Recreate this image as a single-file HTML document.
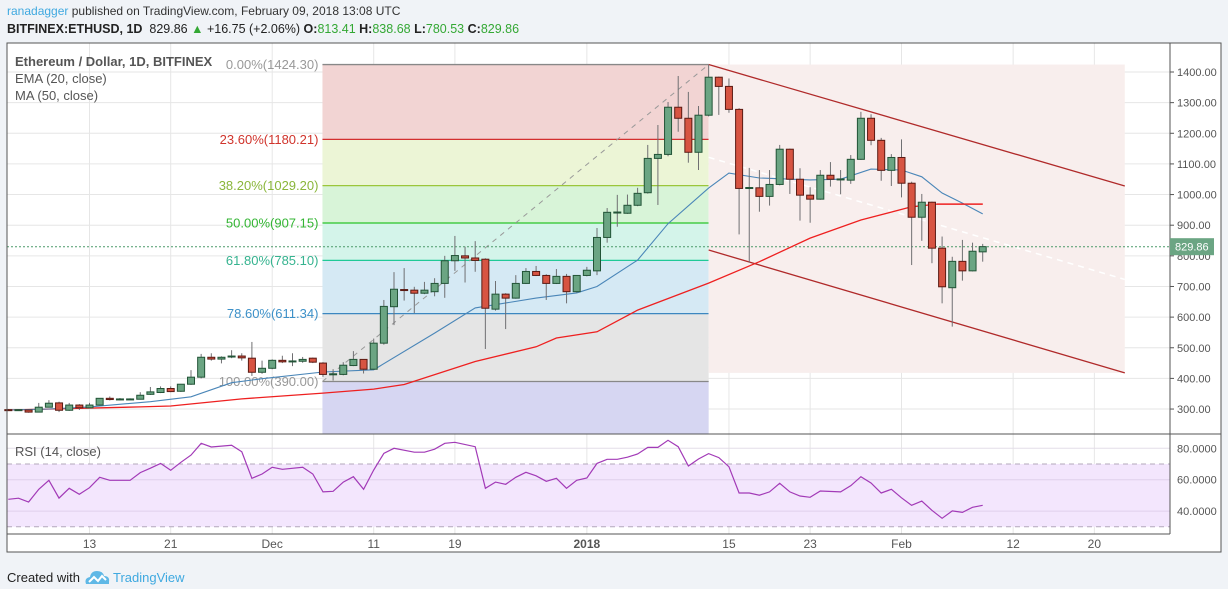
<!DOCTYPE html>
<html><head><meta charset="utf-8"><style>
html,body{margin:0;padding:0;}
body{width:1228px;height:589px;background:#f0f3f7;position:relative;overflow:hidden;font-family:"Liberation Sans",Arial,sans-serif;}
.abs{position:absolute;white-space:nowrap;}
#hdr1{left:7px;top:4px;font-size:12px;color:#333;}
#hdr2{left:7px;top:22px;font-size:12.5px;color:#222;}
.g{color:#34a834;}
#foot{left:7px;top:564px;font-size:13px;color:#222;}
svg{position:absolute;left:0;top:0;}
</style></head><body>
<div class="abs" id="hdr1"><span style="color:#3fa9e0">ranadagger</span> published on TradingView.com, February 09, 2018 13:08 UTC</div>
<div class="abs" id="hdr2"><b>BITFINEX:ETHUSD, 1D</b>&nbsp; 829.86 <span class="g">▲</span> +16.75 (+2.06%) <b>O:</b><span class="g">813.41</span> <b>H:</b><span class="g">838.68</span> <b>L:</b><span class="g">780.53</span> <b>C:</b><span class="g">829.86</span></div>
<div class="abs" id="foot">Created with <svg style="position:relative;left:0;top:4px;vertical-align:baseline" width="26" height="18" viewBox="0 0 26 18"><path d="M2 16 Q0 10 6 9 Q7 3 13 3 Q19 3 20 8 Q26 8 25 14 L25 16 Z" fill="#5fb8e6"/><path d="M5 14 L10 9 L14 13 L18 8 L22 12" stroke="#fff" stroke-width="2" fill="none"/></svg> <span style="color:#3fa9e0">TradingView</span></div>

<svg id="chart" width="1228" height="589" font-family="Liberation Sans, Arial, sans-serif">
<rect x="7" y="43" width="1214" height="509" fill="#fff"/>
<g id="grid"></g>
<g id="fib"></g>
<g id="chan"></g>
<g id="ind"></g>
<g id="candles"></g>
<g id="rsi"></g>
<g id="axes"></g>
<g id="labels">
<text x="15" y="66" font-size="13" font-weight="bold" fill="#555">Ethereum / Dollar, 1D, BITFINEX</text>
<text x="15" y="83" font-size="13" fill="#555">EMA (20, close)</text>
<text x="15" y="100" font-size="13" fill="#555">MA (50, close)</text>
<text x="15" y="456" font-size="13" fill="#555">RSI (14, close)</text>
</g>
</svg>
<script>
const opens=[298,297,297,290,306,320,296,313,304,313,335,332,332,332,348,354,367,358,381,404,469,463,471,473,466,420,433,459,456,456,466,450,414,413,442,462,430,515,634,690,688,678,683,710,784,800,793,789,626,675,662,710,749,736,710,733,683,736,751,860,941,939,965,1006,1118,1131,1285,1249,1138,1259,1383,1353,1278,1020,1022,994,1033,1148,1050,998,985,1063,1050,1047,1115,1249,1177,1079,1121,1037,926,975,825,696,782,751,813];
const highs=[300,299,299,320,329,324,320,316,320,336,341,336,335,355,372,374,374,382,427,480,482,472,492,482,519,458,462,474,482,470,468,453,430,453,489,463,530,656,747,760,699,715,727,800,865,830,848,792,718,678,737,760,767,740,757,741,737,764,891,956,999,1000,1022,1162,1227,1302,1387,1335,1289,1424,1385,1379,1282,1087,1080,1080,1162,1150,1086,1024,1080,1106,1080,1129,1270,1262,1185,1132,1180,1042,1002,977,863,797,852,843,839];
const lows=[295,295,288,289,305,290,294,297,302,312,328,328,330,331,346,352,355,356,379,400,458,449,466,458,408,415,430,450,440,451,450,405,393,410,440,416,428,510,574,654,613,675,668,663,751,713,748,496,621,561,660,708,734,656,708,645,680,733,737,843,895,937,962,1003,966,1125,1205,1104,1080,1255,1260,1267,870,778,944,964,1030,1002,915,908,983,1026,1001,1035,1113,1161,1045,1028,991,770,849,776,645,569,719,749,781];
const closes=[296,298,290,306,319,296,313,304,313,335,331,333,333,345,356,367,357,381,404,469,463,469,473,467,420,433,459,454,457,462,453,413,415,443,462,430,515,635,691,689,678,688,710,784,801,793,785,629,675,662,710,749,736,710,733,683,736,753,860,942,943,965,1004,1118,1131,1285,1249,1138,1259,1383,1353,1278,1020,1023,994,1033,1148,1050,998,985,1063,1050,1051,1115,1249,1177,1079,1121,1037,926,975,825,699,782,751,815,830];
const emaIdx=[0,4,8,14,18,22,25,31,36,42,46,52,56,58,62,65,69,71,74,79,82,85,88,90,92,94,96];
const emaVal=[297,300,307,324,340,386,399,421,428,548,630,662,679,700,786,905,1021,1070,1054,1048,1050,1083,1080,1058,1005,972,937];
const maIdx=[0,13,16,23,31,36,39,46,52,54,58,62,69,74,79,84,89,91.5,96];
const maVal=[297,307,310,333,352,365,380,455,503,532,552,623,711,781,858,917,960,969,969];
const rsiIdx=[0,1,2,3,4,5,6,7,8,9,10,12,13,14,15,16,17,18,19,20,22,23,24,25,26,27,29,30,31,32,33,34,35,36,37,38,40,41,42,43,44,46,47,48,49,50,51,52,53,54,55,56,57,58,59,60,61,62,63,64,65,66,67,68,69,70,71,72,73,74,75,76,77,78,79,80,82,83,84,85,86,87,88,89,90,91,92,93,94,95,96];
const rsiVal=[47.5,48.2,45.8,53.9,59.6,48.3,54.5,50.7,54.9,61.5,59.6,59.6,64.5,67.3,70.4,66,71.1,75.7,83.2,80.8,81.9,77.8,60.9,63.6,67.9,66.6,67.9,63.6,52.2,52.6,58.5,61.9,53.9,66.2,76.8,80,77.5,77.5,79.4,83.2,83.8,81,54.5,58.5,57.1,61.5,64.7,62.5,59,60.9,54.5,59.6,61.1,70.4,73,73,74.3,76.4,80.6,80.6,85.1,81,68.7,73.2,76.6,74.1,68.3,51.5,51.5,50.1,52.2,57.7,52.2,49.6,48.8,52.8,52.2,56.2,61.9,57.9,51.5,53.9,48.5,43.7,46.4,40.5,35.4,40.1,39.2,42.4,43.7];
const priceTicks=[1400,1300,1200,1100,1000,900,800,700,600,500,400,300];
const rsiTicks=[80,60,40];
const dateTickIdx=[8,16,26,36,44,57,71,79,88,99,107];
const dateTickLbl=["13","21","Dec","11","19","2018","15","23","Feb","12","20"];
const fibLevels=[0,23.6,38.2,50,61.8,78.6,100];
const fibHigh=1424.3, fibLow=390, fibStartIdx=31, fibEndIdx=69;
const chanTop=[[69,1424.3],[110,1028]];
const chanBot=[[69,819],[110,418]];
const lastPrice=829.86, hLinePrice=969;

const NS="http://www.w3.org/2000/svg";
const X=i=>8.3+i*10.15;
const Y=p=>72+(1400-p)*0.3064;
const YR=v=>479.7-(v-60)*1.57;
const L=7,R=1170,T=43,PB=434,RB=534,FB=552;
function mk(tag,attrs,parent){const e=document.createElementNS(NS,tag);for(const k in attrs)e.setAttribute(k,attrs[k]);parent.appendChild(e);return e;}
const grid=document.getElementById('grid'),fib=document.getElementById('fib'),chan=document.getElementById('chan'),ind=document.getElementById('ind'),cg=document.getElementById('candles'),rg=document.getElementById('rsi'),ax=document.getElementById('axes');

priceTicks.forEach(p=>{const l=mk('line',{x1:L,x2:R,y1:Y(p),y2:Y(p),stroke:'#e6e6e6'},grid);

});
dateTickIdx.forEach(i=>{const l=mk('line',{x1:X(i),x2:X(i),y1:T,y2:RB,stroke:'#e6e6e6'},grid);

});

const fcol=['#f2d4d3','#ecf5d6','#d8f4d8','#d4f4ea','#d5e9f4','#e5e5e5'];
const lcol=['#888888','#d32f2f','#9bc63b','#29c329','#20c997','#3c87c0','#888888'];
const tcol=['#999999','#d0342c','#8ab63a','#33b533','#35b38f','#3c90c8','#999999'];
const fx1=X(fibStartIdx)-0.5,fx2=X(fibEndIdx);
const fp=lv=>fibHigh-(fibHigh-fibLow)*lv/100;
for(let k=0;k<fibLevels.length-1;k++){const r=mk('rect',{x:fx1,y:Y(fp(fibLevels[k])),width:fx2-fx1,height:Y(fp(fibLevels[k+1]))-Y(fp(fibLevels[k])),fill:fcol[k]},fib);

}
const lav=mk('rect',{x:fx1,y:Y(fibLow),width:fx2-fx1,height:PB-Y(fibLow),fill:'#d6d6f2'},fib);


fibLevels.forEach((lv,k)=>{const y=Y(fp(lv));
const l=mk('line',{x1:fx1,x2:fx2,y1:y,y2:y,stroke:lcol[k],'stroke-width':1.3},fib);


const t=mk('text',{x:fx1-4,y:y+4.5,'text-anchor':'end','font-size':13,fill:tcol[k]},fib);
t.textContent=lv.toFixed(2)+'%('+fp(lv).toFixed(2)+')';

});
const dg=mk('line',{x1:fx1,y1:Y(fibLow),x2:fx2,y2:Y(fibHigh),stroke:'#999','stroke-dasharray':'5,5'},fib);



const cb=mk('rect',{x:X(chanTop[0][0]),y:Y(chanTop[0][1]),width:X(chanTop[1][0])-X(chanTop[0][0]),height:Y(chanBot[1][1])-Y(chanTop[0][1]),fill:'#f8eeed'},chan);


const mid=mk('line',{x1:X(chanTop[0][0]),y1:(Y(chanTop[0][1])+Y(chanBot[0][1]))/2,x2:X(chanTop[1][0]),y2:(Y(chanTop[1][1])+Y(chanBot[1][1]))/2,stroke:'#fff','stroke-width':1.5,'stroke-dasharray':'6,5'},chan);


[chanTop,chanBot].forEach((c,k)=>{const l=mk('line',{x1:X(c[0][0]),y1:Y(c[0][1]),x2:X(c[1][0]),y2:Y(c[1][1]),stroke:'#b02a2a','stroke-width':1.3},chan);

});

const pl=mk('line',{x1:L,x2:R,y1:Y(lastPrice),y2:Y(lastPrice),stroke:'#4c9a6a','stroke-dasharray':'2,2'},ind);



function poly(ix,vs,col,w,name){const pts=ix.map((i,k)=>X(i).toFixed(1)+','+Y(vs[k]).toFixed(1)).join(' ');
const p=mk('polyline',{points:pts,fill:'none',stroke:col,'stroke-width':w},ind);

}
poly(maIdx,maVal,'#ee2020',1.3,'ma50-line');
poly(emaIdx,emaVal,'#4a86b8',1.1,'ema20-line');

for(let i=0;i<opens.length;i++){const up=closes[i]>=opens[i];const x=X(i);
const w=mk('line',{x1:x,x2:x,y1:Y(highs[i]),y2:Y(lows[i]),stroke:'#6f6f72','stroke-width':1},cg);


const top=Y(Math.max(opens[i],closes[i])),bot=Y(Math.min(opens[i],closes[i]));
const b=mk('rect',{x:x-3.5,y:top,width:7,height:Math.max(1,bot-top),fill:up?'#6ba583':'#d75442',stroke:up?'#225437':'#5b1a13','stroke-width':1},cg);

}

const hl=mk('line',{x1:X(91.5),x2:X(96),y1:Y(hLinePrice),y2:Y(hLinePrice),stroke:'#ee2020','stroke-width':1.3},ind);



rsiTicks.forEach(v=>{const l=mk('line',{x1:L,x2:R,y1:YR(v),y2:YR(v),stroke:'#e3dde8'},rg);

});
const band=mk('rect',{x:L,y:YR(70),width:R-L,height:YR(30)-YR(70),fill:'#f3e6fd'},rg);


rsiTicks.forEach(v=>{if(v<70){const l=mk('line',{x1:L,x2:R,y1:YR(v),y2:YR(v),stroke:'#e0d0ec'},rg);

}});
[70,30].forEach(v=>{const l=mk('line',{x1:L,x2:R,y1:YR(v),y2:YR(v),stroke:'#b3a8bb','stroke-dasharray':'5,4'},rg);

});
const rp=mk('polyline',{points:rsiIdx.map((i,k)=>X(i).toFixed(1)+','+YR(rsiVal[k]).toFixed(1)).join(' '),fill:'none',stroke:'#a23ab7','stroke-width':1.2},rg);



const fr=mk('rect',{x:L,y:T,width:1221-L,height:FB-T,fill:'none',stroke:'#555','stroke-width':1},ax);


[[R,T,R,RB],[L,PB,1221,PB],[L,RB,R,RB]].forEach(c=>{const l=mk('line',{x1:c[0],y1:c[1],x2:c[2],y2:c[3],stroke:'#555'},ax);

});
priceTicks.forEach(p=>{const t=mk('text',{x:1177,y:Y(p)+4,'font-size':11,fill:'#555'},ax);t.textContent=p.toFixed(2);


const k=mk('line',{x1:R,x2:R+4,y1:Y(p),y2:Y(p),stroke:'#555'},ax);

});
rsiTicks.forEach(v=>{const t=mk('text',{x:1177,y:YR(v)+4,'font-size':11,fill:'#555'},ax);t.textContent=v.toFixed(4);

});
dateTickIdx.forEach((i,k)=>{const t=mk('text',{x:X(i),y:548,'font-size':12,'text-anchor':'middle',fill:'#555','font-weight':dateTickLbl[k]==='2018'?'bold':'normal'},ax);t.textContent=dateTickLbl[k];

});
const pb=mk('rect',{x:R,y:Y(lastPrice)-8.5,width:44,height:17,fill:'#6ba583'},ax);


const pt=mk('text',{x:R+5,y:Y(lastPrice)+4,'font-size':11,fill:'#fff'},ax);pt.textContent=lastPrice.toFixed(2);


</script>
</body></html>
